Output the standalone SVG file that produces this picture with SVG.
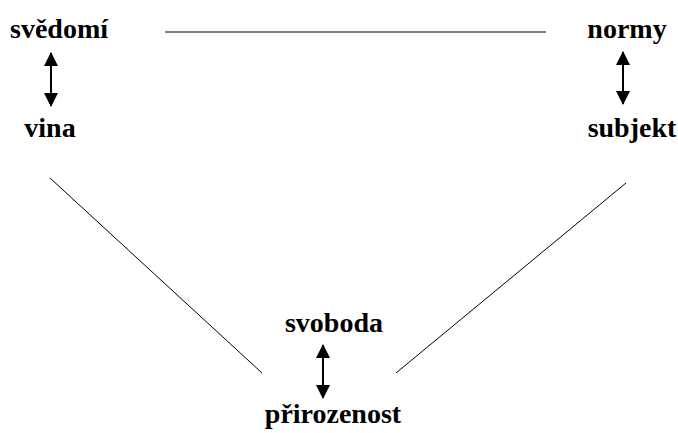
<svg xmlns="http://www.w3.org/2000/svg" width="678" height="433" viewBox="0 0 678 433">
<defs>
<style>
.t{font-family:"Liberation Serif","Tinos","Times New Roman","Noto Serif","DejaVu Serif",serif;font-weight:bold;font-size:28px;fill:#000;text-anchor:middle}
.l{stroke:#000;stroke-width:1;fill:none}
.a{stroke:#000;stroke-width:2;fill:none}
</style>
<marker id="ah" viewBox="0 0 14 14" refX="13" refY="7" markerWidth="14" markerHeight="14" markerUnits="userSpaceOnUse" orient="auto-start-reverse">
<path d="M0,0 L14,7 L0,14 Z" fill="#000"/>
</marker>
</defs>
<rect width="678" height="433" fill="#fff"/>
<g id="svedomi"><text class="t" x="59" y="38">svědomí</text></g>
<g id="normy"><text class="t" x="627" y="38">normy</text></g>
<g id="vina"><text class="t" x="50" y="137">vina</text></g>
<g id="subjekt"><text class="t" x="632" y="137">subjekt</text></g>
<g id="svoboda"><text class="t" x="334" y="332">svoboda</text></g>
<g id="prirozenost"><text class="t" x="333" y="423">přirozenost</text></g>
<g id="connectors">
<line class="l" x1="165" y1="32" x2="546" y2="32"/>
<line class="l" x1="50" y1="178" x2="262" y2="373"/>
<line class="l" x1="626" y1="183" x2="396" y2="373"/>
<line class="a" x1="51" y1="53" x2="51" y2="106" marker-start="url(#ah)" marker-end="url(#ah)"/>
<line class="a" x1="623" y1="52" x2="623" y2="104" marker-start="url(#ah)" marker-end="url(#ah)"/>
<line class="a" x1="323" y1="345" x2="323" y2="398" marker-start="url(#ah)" marker-end="url(#ah)"/>
</g>
</svg>
